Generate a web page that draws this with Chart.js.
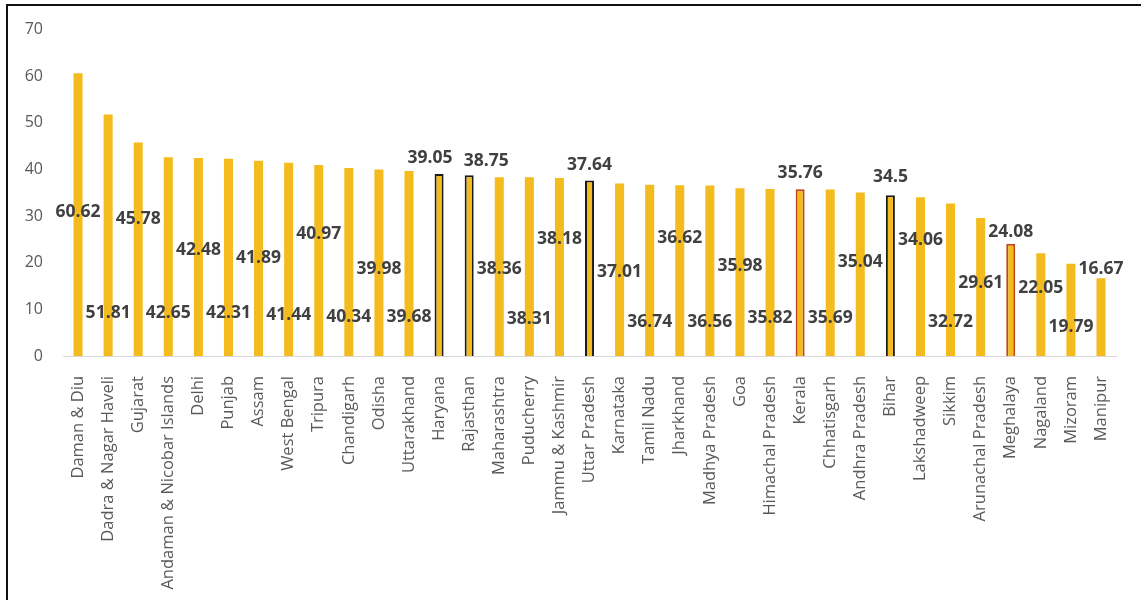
<!DOCTYPE html>
<html>
<head>
<meta charset="utf-8">
<script src="https://cdn.jsdelivr.net/npm/chart.js@4.4.1/dist/chart.umd.min.js"></script>
<style>
  html, body { margin: 0; padding: 0; background: #fff; }
  #wrap { position: relative; width: 1141px; height: 600px; }
  #frame {
    position: absolute; left: 6px; top: 4px; right: 0; bottom: 0;
    border-top: 2px solid #111; border-left: 2px solid #111;
    pointer-events: none;
  }
</style>
</head>
<body>
<div id="wrap">
  <canvas id="chart" width="1141" height="600"></canvas>
  <div id="frame"></div>
</div>
<script>
const states = [
  "Daman & Diu", "Dadra & Nagar Haveli", "Gujarat", "Andaman & Nicobar Islands",
  "Delhi", "Punjab", "Assam", "West Bengal", "Tripura", "Chandigarh", "Odisha",
  "Uttarakhand", "Haryana", "Rajasthan", "Maharashtra", "Puducherry",
  "Jammu & Kashmir", "Uttar Pradesh", "Karnataka", "Tamil Nadu", "Jharkhand",
  "Madhya Pradesh", "Goa", "Himachal Pradesh", "Kerala", "Chhatisgarh",
  "Andhra Pradesh", "Bihar", "Lakshadweep", "Sikkim", "Arunachal Pradesh",
  "Meghalaya", "Nagaland", "Mizoram", "Manipur"
];

const values = [
  60.62, 51.81, 45.78, 42.65, 42.48, 42.31, 41.89, 41.44, 40.97, 40.34, 39.98,
  39.68, 39.05, 38.75, 38.36, 38.31, 38.18, 37.64, 37.01, 36.74, 36.62,
  36.56, 35.98, 35.82, 35.76, 35.69, 35.04, 34.5, 34.06, 32.72, 29.61,
  24.08, 22.05, 19.79, 16.67
];

// level on the value axis where each number label sits (staggered so they don't collide)
const labelLevels = [
  30.8, 9.2, 29.3, 9.2, 22.7, 9.2, 21.0, 8.8, 26.1, 8.4, 18.6,
  8.4, 42.4, 41.9, 18.6, 7.9, 25.0, 40.9, 18.0, 7.3, 25.3,
  7.3, 19.3, 8.1, 39.2, 8.1, 20.1, 38.3, 24.8, 7.3, 15.6,
  26.5, 14.6, 6.2, 18.6
];

const yMin = 0;
const yMax = 70;
const yStep = 10;

// bars that get an outline
const outlines = {
  "Haryana": "#1c1c1c",
  "Rajasthan": "#1c1c1c",
  "Uttar Pradesh": "#1c1c1c",
  "Bihar": "#1c1c1c",
  "Kerala": "#c4441f",
  "Meghalaya": "#c4441f"
};

// two neighbouring top labels are nudged sideways so they don't overlap
const labelNudge = { "Haryana": -9, "Rajasthan": 17 };

const barColor = "#f3bb1d";

const valueLabels = {
  id: "valueLabels",
  afterDatasetsDraw(chart) {
    const ctx = chart.ctx;
    const bars = chart.getDatasetMeta(0).data;
    const y = chart.scales.y;
    ctx.save();
    ctx.font = 'bold 17.5px "Open Sans"';
    ctx.fillStyle = "#404040";
    ctx.textAlign = "center";
    ctx.textBaseline = "middle";
    bars.forEach((bar, i) => {
      const dx = labelNudge[states[i]] || 0;
      ctx.fillText(String(values[i]), bar.x + dx, y.getPixelForValue(labelLevels[i]));
    });
    ctx.restore();
  }
};

function draw() {
  new Chart(document.getElementById("chart"), {
    type: "bar",
    data: {
      labels: states,
      datasets: [{
        data: values,
        backgroundColor: barColor,
        borderColor: states.map(s => outlines[s] || barColor),
        borderWidth: states.map(s => outlines[s] ? 2 : 0),
        categoryPercentage: 1,
        barPercentage: 0.3
      }]
    },
    options: {
      responsive: false,
      animation: false,
      layout: { padding: { top: 29, right: 14, left: 0, bottom: 0 } },
      plugins: {
        legend: { display: false },
        tooltip: { enabled: false }
      },
      scales: {
        x: {
          grid: { display: false, drawTicks: false },
          border: { display: true, color: "#d9d9d9", width: 1 },
          ticks: {
            autoSkip: false,
            minRotation: 90,
            maxRotation: 90,
            padding: 20,
            color: "#595959",
            font: { family: "Open Sans", size: 16.5 }
          },
          afterFit(scale) { scale.height = 244; }
        },
        y: {
          min: yMin,
          max: yMax,
          grid: { display: false, drawTicks: false },
          border: { display: false },
          ticks: {
            stepSize: yStep,
            padding: 20,
            color: "#595959",
            font: { family: "Open Sans", size: 16 }
          },
          afterFit(scale) { scale.width = 63; }
        }
      }
    },
    plugins: [valueLabels]
  });
}

document.fonts.load('bold 17.5px "Open Sans"').then(draw, draw);
</script>
</body>
</html>
